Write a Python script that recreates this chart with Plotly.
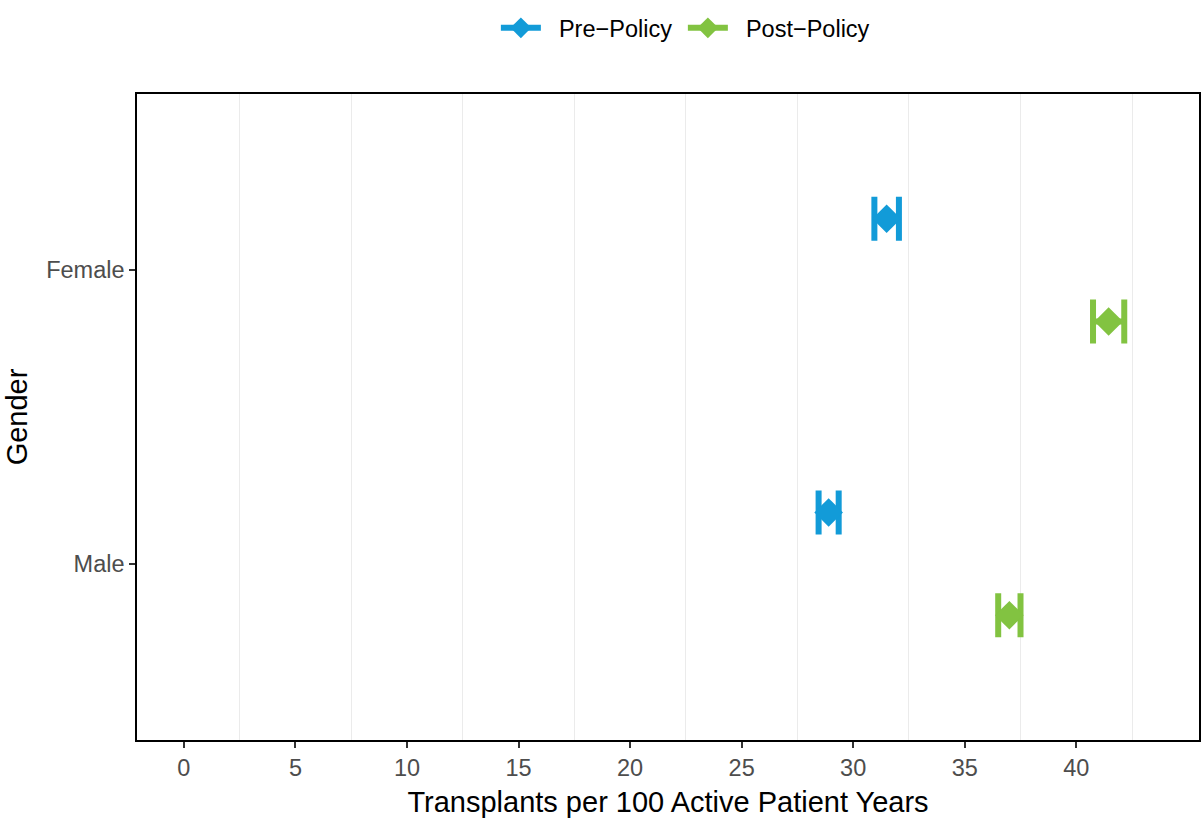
import plotly.graph_objects as go

genders = ["Male", "Female"]
gender_pos = [1, 2]
groups = ["Pre\u2212Policy", "Post\u2212Policy"]
group_offsets = [0.175, -0.175]
colors = ["#129BD8", "#82C341"]

# rate and 95% CI, per gender (Male, Female)
pre_rate = [28.9, 31.5]
pre_lo = [28.45, 30.95]
pre_hi = [29.35, 32.05]
post_rate = [37.0, 41.45]
post_lo = [36.5, 40.75]
post_hi = [37.5, 42.15]

series = [(pre_rate, pre_lo, pre_hi), (post_rate, post_lo, post_hi)]

x_ticks = [0, 5, 10, 15, 20, 25, 30, 35, 40]

fig = go.Figure()
for g, (rate, lo, hi) in enumerate(series):
    for i, gender in enumerate(genders):
        fig.add_trace(go.Scatter(
            x=[rate[i]],
            y=[gender_pos[i] + group_offsets[g]],
            mode="lines+markers",
            name="\u00a0\u00a0" + groups[g],
            legendgroup=groups[g],
            showlegend=(i == 0),
            marker=dict(symbol="diamond", size=22, color=colors[g]),
            line=dict(color=colors[g], width=6),
            error_x=dict(
                type="data", symmetric=False,
                array=[hi[i] - rate[i]], arrayminus=[rate[i] - lo[i]],
                color=colors[g], thickness=6, width=22,
            ),
        ))

minor_vals = [v + 2.5 for v in x_ticks]

fig.update_layout(
    width=1202, height=818,
    margin=dict(l=137, r=1, t=94, b=76),
    paper_bgcolor="white", plot_bgcolor="white",
    font=dict(family="Liberation Sans, Arial, sans-serif", color="black"),
    legend=dict(orientation="h", x=0.514, xanchor="center", y=1 - 28 / 818, yanchor="middle",
                yref="container", font=dict(size=23.5), itemwidth=40,
                entrywidth=132, traceorder="normal"),
    xaxis=dict(
        range=[-2.1, 45.5], tickvals=x_ticks, ticktext=[str(v) for v in x_ticks],
        showgrid=False, zeroline=False,
        ticks="outside", ticklen=6, tickwidth=2, tickcolor="#333333",
        tickfont=dict(size=23.5, color="#4D4D4D"),
        showline=True, linecolor="black", linewidth=1.5, mirror=True,
        title=dict(text="Transplants per 100 Active Patient Years", font=dict(size=29, color="black"), standoff=16),
        minor=dict(tickvals=minor_vals, showgrid=True, gridcolor="#EBEBEB", gridwidth=1, ticks=""),
    ),
    yaxis=dict(
        range=[0.4, 2.6], tickvals=gender_pos, ticktext=genders,
        showgrid=False, zeroline=False,
        ticks="outside", ticklen=6, tickwidth=2, tickcolor="#333333",
        tickfont=dict(size=23.5, color="#4D4D4D"),
        showline=True, linecolor="black", linewidth=1.5, mirror=True,
        title=dict(text="Gender", font=dict(size=29, color="black"), standoff=10),
    ),
)

fig.write_html("out.html", config={"displayModeBar": False})

with open("out.html", "r", encoding="utf-8") as f:
    html = f.read()
html = html.replace("<body>", '<body style="margin:0;overflow:hidden">', 1)
with open("out.html", "w", encoding="utf-8") as f:
    f.write(html)
